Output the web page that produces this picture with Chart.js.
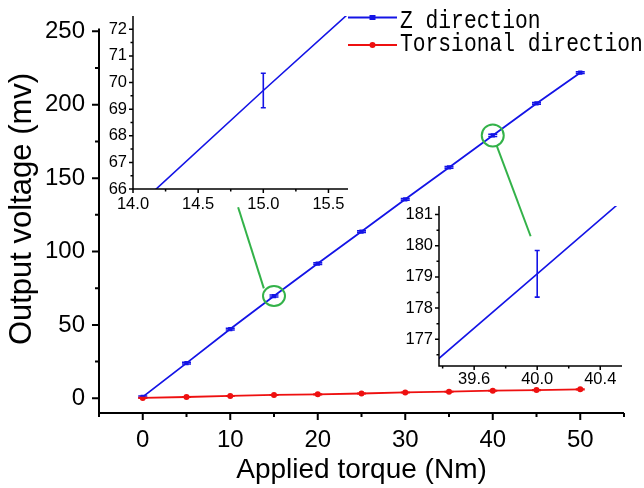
<!DOCTYPE html>
<html><head><meta charset="utf-8">
<script src="https://cdn.jsdelivr.net/npm/chart.js@4"></script>
<style>
html,body{margin:0;padding:0;background:#fff;overflow:hidden}
#wrap{position:relative;width:644px;height:488px}
canvas{position:absolute}
</style></head>
<body>
<div id="wrap">
<canvas id="main" width="644" height="488" style="left:0;top:0"></canvas>
<canvas id="in1" width="300" height="225" style="left:70px;top:0"></canvas>
<canvas id="in2" width="264" height="210" style="left:380px;top:190px"></canvas>
</div>
<script>
// ---- data ----
const torque = [0, 5, 10, 15, 20, 25, 30, 35, 40, 45, 50];
const zVoltage = [1.0, 24.0, 47.2, 69.7, 91.8, 113.6, 135.6, 157.3, 179.1, 200.9, 221.8];
const zError = [0.6, 0.6, 0.6, 0.65, 0.6, 0.6, 0.6, 0.6, 0.75, 0.6, 0.6];
const torsionalVoltage = [0.3, 0.9, 1.6, 2.3, 2.7, 3.3, 4.0, 4.5, 5.2, 5.6, 6.1];
const torsionalError = [0.2, 0.2, 0.2, 0.2, 0.2, 0.2, 0.2, 0.2, 0.2, 0.2, 0.2];
const seriesLabels = ['Z direction', 'Torsional direction'];
const xTitle = 'Applied torque (Nm)';
const yTitle = 'Output voltage (mv)';
const mainXTicks = [0, 10, 20, 30, 40, 50];
const mainXMinor = [-5, 5, 15, 25, 35, 45, 55];
const mainYTicks = [0, 50, 100, 150, 200, 250];
const mainYMinor = [25, 75, 125, 175, 225];
const inset1XTicks = [14.0, 14.5, 15.0, 15.5];
const inset1XMinor = [14.25, 14.75, 15.25];
const inset1YTicks = [66, 67, 68, 69, 70, 71, 72];
const inset1YMinor = [66.5, 67.5, 68.5, 69.5, 70.5, 71.5];
const inset2XTicks = [39.6, 40.0, 40.4];
const inset2XMinor = [39.4, 39.8, 40.2];
const inset2YTicks = [177, 178, 179, 180, 181];
const inset2YMinor = [176.5, 177.5, 178.5, 179.5, 180.5];
const zoomIndex1 = 3;  // torque 15
const zoomIndex2 = 8;  // torque 40

const BLUE = '#1414e6', RED = '#ee1010', GREEN = '#33b249';
Chart.defaults.font.family = "'Liberation Sans', Arial, sans-serif";
Chart.defaults.color = '#000';

const pts = (xs, ys) => xs.map((x, i) => ({x, y: ys[i]}));

const deco = {
  id: 'deco',
  afterDatasetsDraw(chart, args, o) {
    const {ctx, chartArea: a, scales: {x, y}} = chart;
    ctx.save();
    if (o.clipErr) { ctx.beginPath(); ctx.rect(a.left, a.top, a.width, a.height); ctx.clip(); }
    (o.errors || []).forEach((err, di) => {
      if (!err) return;
      const ds = chart.data.datasets[di];
      ctx.strokeStyle = ds.borderColor; ctx.lineWidth = o.errWidth;
      ds.data.forEach((p, i) => {
        if (o.errOnly != null && o.errOnly !== i) return;
        const px = x.getPixelForValue(p.x);
        const y1 = y.getPixelForValue(p.y - err[i]), y2 = y.getPixelForValue(p.y + err[i]);
        const c = o.capWidth / 2;
        ctx.beginPath();
        ctx.moveTo(px, y1); ctx.lineTo(px, y2);
        ctx.moveTo(px - c, y1); ctx.lineTo(px + c, y1);
        ctx.moveTo(px - c, y2); ctx.lineTo(px + c, y2);
        ctx.stroke();
      });
    });
    ctx.restore();
  },
  afterDraw(chart, args, o) {
    const {ctx, chartArea: a, scales: {x, y}} = chart;
    ctx.save();
    ctx.strokeStyle = '#000'; ctx.lineWidth = o.axisWidth; ctx.lineCap = 'butt';
    const h = o.axisWidth / 2;
    ctx.beginPath();
    ctx.moveTo(a.left - h, a.bottom); ctx.lineTo(a.right, a.bottom);
    ctx.moveTo(a.left, a.top); ctx.lineTo(a.left, a.bottom + h);
    x.ticks.forEach(t => { const p = x.getPixelForValue(t.value); ctx.moveTo(p, a.bottom); ctx.lineTo(p, a.bottom + o.major); });
    (o.xMinor || []).forEach(v => { const p = x.getPixelForValue(v); ctx.moveTo(p, a.bottom); ctx.lineTo(p, a.bottom + o.minor); });
    y.ticks.forEach(t => { const p = y.getPixelForValue(t.value); ctx.moveTo(a.left, p); ctx.lineTo(a.left - o.major, p); });
    (o.yMinor || []).forEach(v => { const p = y.getPixelForValue(v); ctx.moveTo(a.left, p); ctx.lineTo(a.left - o.minor, p); });
    ctx.stroke();

    // y-axis title (placed slightly above the chart-area centre, as in the reference)
    if (o.yTitle) {
      const T = o.yTitle;
      ctx.save();
      ctx.fillStyle = '#000'; ctx.font = T.font; ctx.textAlign = 'center'; ctx.textBaseline = 'middle';
      ctx.translate(T.x, T.y); ctx.rotate(-Math.PI / 2);
      ctx.fillText(T.text, 0, 0);
      ctx.restore();
    }

    // callouts (green circles + leader lines, in data coordinates)
    (o.callouts || []).forEach(c => {
      ctx.strokeStyle = GREEN; ctx.lineWidth = 2;
      const cx = x.getPixelForValue(c.cx), cy = y.getPixelForValue(c.cy);
      ctx.beginPath(); ctx.ellipse(cx, cy, c.rx, c.ry, 0, 0, Math.PI * 2); ctx.stroke();
      ctx.beginPath();
      ctx.moveTo(x.getPixelForValue(c.from[0]), y.getPixelForValue(c.from[1]));
      ctx.lineTo(x.getPixelForValue(c.to[0]), y.getPixelForValue(c.to[1]));
      ctx.stroke();
    });

    // legend
    if (o.legend) {
      const L = o.legend;
      chart.data.datasets.forEach((ds, i) => {
        const ly = L.lineY[i];
        ctx.strokeStyle = ds.borderColor; ctx.fillStyle = ds.borderColor; ctx.lineWidth = 1.8;
        ctx.beginPath(); ctx.moveTo(L.x0, ly); ctx.lineTo(L.x1, ly); ctx.stroke();
        const mx = (L.x0 + L.x1) / 2;
        if (ds.pointStyle === 'rect') { ctx.fillRect(mx - 3, ly - 2.5, 6, 5); }
        else { ctx.beginPath(); ctx.arc(mx, ly, 3, 0, Math.PI * 2); ctx.fill(); }
        ctx.save();
        ctx.fillStyle = '#000';
        ctx.font = L.font; ctx.textAlign = 'left'; ctx.textBaseline = 'alphabetic';
        ctx.translate(L.tx, L.baseY[i]);
        ctx.scale(1, L.vScale);
        ctx.fillText(ds.label, 0, 0);
        ctx.restore();
      });
    }
    ctx.restore();
  }
};

function scaleOpts(min, max, tickVals, fmt, fontSize, pad, fitProp, fitVal, title) {
  const s = {
    type: 'linear', min, max,
    grid: {display: false, drawTicks: false},
    border: {display: false},
    afterBuildTicks: sc => { sc.ticks = tickVals.map(v => ({value: v})); },
    afterFit: sc => { sc[fitProp] = fitVal; },
    ticks: {font: {size: fontSize}, padding: pad, autoSkip: false, maxRotation: 0, minRotation: 0, color: '#000', callback: fmt}
  };
  if (title) s.title = title;
  return s;
}

// ---- main chart ----
new Chart(document.getElementById('main'), {
  type: 'scatter',
  data: {datasets: [
    {label: seriesLabels[0], data: pts(torque, zVoltage), showLine: true, borderColor: BLUE, backgroundColor: BLUE,
     borderWidth: 1.8, pointStyle: 'rect', pointRadius: 3, pointHoverRadius: 3, pointBorderWidth: 0},
    {label: seriesLabels[1], data: pts(torque, torsionalVoltage), showLine: true, borderColor: RED, backgroundColor: RED,
     borderWidth: 1.8, pointStyle: 'circle', pointRadius: 3, pointHoverRadius: 3, pointBorderWidth: 0}
  ]},
  options: {
    responsive: false, animation: false, events: [],
    layout: {padding: {left: 0, right: 20, top: 20, bottom: 0}},
    plugins: {
      legend: {display: false}, tooltip: {enabled: false},
      deco: {
        errors: [zError, torsionalError], errWidth: 1.5, capWidth: 9, clipErr: false,
        axisWidth: 2, major: 7, minor: 4, xMinor: mainXMinor, yMinor: mainYMinor,
        yTitle: {text: yTitle, x: 22.6, y: 209, font: "31px 'Liberation Sans', Arial, sans-serif"},
        callouts: [
          {cx: torque[zoomIndex1], cy: zVoltage[zoomIndex1], rx: 11, ry: 10, from: [13.84, 74.9], to: [10.9, 130.2]},
          {cx: torque[zoomIndex2], cy: zVoltage[zoomIndex2], rx: 11, ry: 11, from: [40.45, 172.2], to: [44.33, 110.4]}
        ],
        legend: {x0: 348, x1: 397, tx: 400, lineY: [17.5, 45], baseY: [27.5, 51], vScale: 1.18,
                 font: "21.3px 'Liberation Mono', 'Courier New', monospace"}
      }
    },
    scales: {
      x: scaleOpts(-5, 55, mainXTicks, v => String(v), 24, 13, 'height', 75,
        {display: true, text: xTitle, font: {size: 28}, padding: {top: 0, bottom: 0.5}, color: '#000'}),
      y: scaleOpts(-10, 252, mainYTicks, v => String(v), 24, 14, 'width', 99)
    }
  },
  plugins: [deco]
});

// ---- inset charts ----
function inset(id, xr, yr, xt, yt, xm, ym, padT, padR, yw, xh, idx, xPad) {
  new Chart(document.getElementById(id), {
    type: 'scatter',
    data: {datasets: [
      {label: seriesLabels[0], data: pts(torque, zVoltage), showLine: true, borderColor: BLUE, backgroundColor: BLUE,
       borderWidth: 1.6, pointRadius: 0, pointHoverRadius: 0}
    ]},
    options: {
      responsive: false, animation: false, events: [],
      layout: {padding: {left: 0, right: padR, top: padT, bottom: 0}},
      plugins: {
        legend: {display: false}, tooltip: {enabled: false},
        deco: {errors: [zError], errOnly: idx, errWidth: 1.6, capWidth: 5, clipErr: true,
               axisWidth: 1.5, major: 4, minor: 2.5, xMinor: xm, yMinor: ym}
      },
      scales: {
        x: scaleOpts(xr[0], xr[1], xt, v => v.toFixed(1), 16.5, xPad, 'height', xh),
        y: scaleOpts(yr[0], yr[1], yt, v => String(v), 16.5, 6, 'width', yw)
      }
    },
    plugins: [deco]
  });
}
inset('in1', [14.0, 15.65], [66, 72.5], inset1XTicks, inset1YTicks, inset1XMinor, inset1YMinor, 16, 22, 63, 36, zoomIndex1, 6);
inset('in2', [39.377, 40.538], [176.14, 181.28], inset2XTicks, inset2YTicks, inset2XMinor, inset2YMinor, 14, 22, 59, 34, zoomIndex2, 4);
</script>
</body></html>
